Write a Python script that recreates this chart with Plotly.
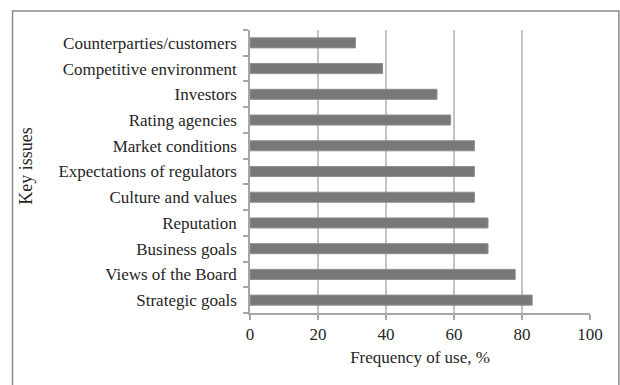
import plotly.graph_objects as go

# Key issues, listed bottom to top
categories = [
    "Strategic goals",
    "Views of the Board",
    "Business goals",
    "Reputation",
    "Culture and values",
    "Expectations of regulators",
    "Market conditions",
    "Rating agencies",
    "Investors",
    "Competitive environment",
    "Counterparties/customers",
]
frequency = [83, 78, 70, 70, 66, 66, 66, 59, 55, 39, 31]

x_ticks = [0, 20, 40, 60, 80, 100]

font_family = "Liberation Serif, Times New Roman, serif"
text_color = "#262626"
axis_color = "#a6a6a6"
grid_color = "#c4c4c4"

fig = go.Figure(
    go.Bar(
        x=frequency,
        y=categories,
        orientation="h",
        width=0.39,
        marker=dict(color="#787878", line=dict(color="#8e8e8e", width=1)),
        hoverinfo="x+y",
    )
)

fig.update_layout(
    width=620,
    height=385,
    margin=dict(l=250, r=30, t=30, b=72),
    paper_bgcolor="white",
    plot_bgcolor="white",
    showlegend=False,
    font=dict(family=font_family, size=17, color=text_color),
    xaxis=dict(
        range=[0, 100],
        tickvals=x_ticks,
        ticktext=[str(v) for v in x_ticks],
        showgrid=True,
        gridcolor=grid_color,
        gridwidth=1.5,
        zeroline=False,
        showline=True,
        linecolor=axis_color,
        linewidth=1.5,
        ticks="outside",
        ticklen=5,
        tickcolor=axis_color,
        tickwidth=1.5,
        tickfont=dict(size=17),
        title=dict(text="Frequency of use, %", font=dict(size=17), standoff=8),
        fixedrange=True,
    ),
    yaxis=dict(
        categoryorder="array",
        categoryarray=categories,
        range=[-0.5, len(categories) - 0.5],
        showgrid=False,
        zeroline=False,
        showline=True,
        linecolor=axis_color,
        linewidth=1.5,
        ticks="outside",
        tickson="boundaries",
        ticklen=5,
        tickcolor=axis_color,
        tickwidth=1.5,
        tickfont=dict(size=17),
        ticklabelstandoff=8,
        fixedrange=True,
    ),
    annotations=[
        dict(
            text="Key issues",
            xref="paper",
            yref="paper",
            x=-0.659,
            y=0.52,
            xanchor="center",
            yanchor="middle",
            textangle=-90,
            showarrow=False,
            font=dict(size=18, color=text_color),
        )
    ],
    shapes=[
        # chart frame
        dict(
            type="rect",
            xref="paper",
            yref="paper",
            x0=-0.6985,
            x1=1.085,
            y0=-0.3,
            y1=1.067,
            line=dict(color="#8a8a8a", width=1.5),
            layer="below",
        )
    ],
)

fig.write_html("out.html")
